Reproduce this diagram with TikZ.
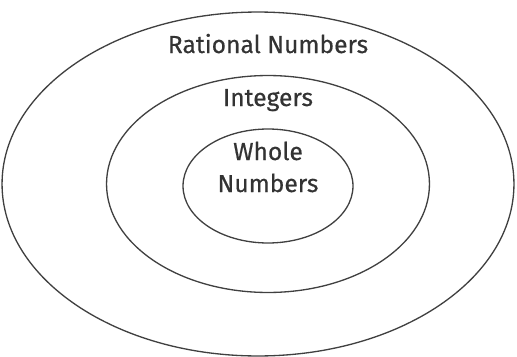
\documentclass[tikz,border=0pt]{standalone}
\usepackage{fontspec}
\setmainfont{Fira Sans}
\newfontfamily\setfont{Fira Sans}[FakeBold=0.5]
\usetikzlibrary{shapes.geometric,positioning}

\begin{document}
\begin{tikzpicture}[x=0.02cm,y=0.02cm,
  set/.style={draw=black!75,line width=0.75pt,ellipse,inner sep=0pt},
  lbl/.style={anchor=base,font=\setfont\fontsize{14}{16}\selectfont,text=black!80}]
\useasboundingbox (0,0) rectangle (517,356);
\node[set,minimum width=10.24cm,minimum height=6.88cm] (rational) at (258,172) {};
\node[set,minimum width=6.46cm,minimum height=4.34cm] (integers) at (268,172) {};
\node[set,minimum width=3.4cm,minimum height=2.28cm] (whole) at (268,170) {};
\node[lbl] (ratlbl) at (268,303) {Rational Numbers};
\node[lbl] (intlbl) at (268,250) {Integers};
\node[lbl] (wholelbl) at (268,196) {Whole};
\node[lbl] (numlbl) at (268,164) {Numbers};
\end{tikzpicture}
\end{document}
